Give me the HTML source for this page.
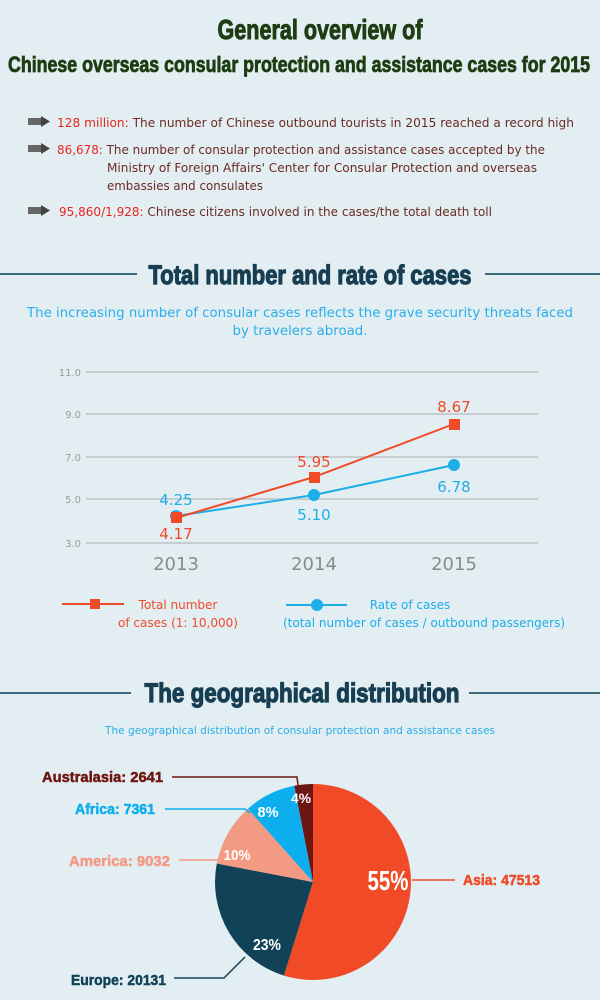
<!DOCTYPE html>
<html><head><meta charset="utf-8"><style>
html,body{margin:0;padding:0;background:#e3eef3;}
svg{display:block}
.t{font-family:"Liberation Sans Narrow","Liberation Sans",sans-serif;font-weight:bold}
.s{font-family:"DejaVu Sans","Liberation Sans",sans-serif}
</style></head><body>
<svg width="600" height="1000" viewBox="0 0 600 1000" xmlns="http://www.w3.org/2000/svg">
<rect width="600" height="1000" fill="#e3eef3"/>
<!-- Title -->
<text class="t" x="320" y="39" font-size="28" fill="#1e3d12" stroke="#1e3d12" stroke-width="1" text-anchor="middle" textLength="205" lengthAdjust="spacingAndGlyphs">General overview of</text>
<text class="t" x="299" y="72" font-size="22" fill="#1e3d12" stroke="#1e3d12" stroke-width="0.8" text-anchor="middle" textLength="582" lengthAdjust="spacingAndGlyphs">Chinese overseas consular protection and assistance cases for 2015</text>
<!-- bullets -->
<g>
<g transform="translate(28,116)"><rect x="0" y="2" width="14" height="7" fill="#666"/><polygon points="13,0 22,5.5 13,11" fill="#444"/></g>
<g transform="translate(28,143)"><rect x="0" y="2" width="14" height="7" fill="#666"/><polygon points="13,0 22,5.5 13,11" fill="#444"/></g>
<g transform="translate(28,205)"><rect x="0" y="2" width="14" height="7" fill="#666"/><polygon points="13,0 22,5.5 13,11" fill="#444"/></g>
</g>
<g class="s" font-size="12.5">
<text x="57" y="127" textLength="517" lengthAdjust="spacingAndGlyphs"><tspan fill="#e8261e">128 million:</tspan><tspan fill="#6b2a24"> The number of Chinese outbound tourists in 2015 reached a record high</tspan></text>
<text x="57" y="154" textLength="488" lengthAdjust="spacingAndGlyphs"><tspan fill="#e8261e">86,678:</tspan><tspan fill="#6b2a24"> The number of consular protection and assistance cases accepted by the</tspan></text>
<text x="107" y="172" fill="#6b2a24" textLength="430" lengthAdjust="spacingAndGlyphs">Ministry of Foreign Affairs' Center for Consular Protection and overseas</text>
<text x="107" y="190" fill="#6b2a24" textLength="156" lengthAdjust="spacingAndGlyphs">embassies and consulates</text>
<text x="59" y="216" textLength="433" lengthAdjust="spacingAndGlyphs"><tspan fill="#e8261e">95,860/1,928:</tspan><tspan fill="#6b2a24"> Chinese citizens involved in the cases/the total death toll</tspan></text>
</g>
<!-- section 1 -->
<line x1="0" y1="274" x2="137" y2="274" stroke="#3e6a80" stroke-width="2"/>
<line x1="485" y1="274" x2="600" y2="274" stroke="#3e6a80" stroke-width="2"/>
<text class="t" x="310" y="284" font-size="27" fill="#173e52" stroke="#173e52" stroke-width="1.2" text-anchor="middle" textLength="323" lengthAdjust="spacingAndGlyphs">Total number and rate of cases</text>
<g class="s" font-size="13" fill="#2aaee8" text-anchor="middle">
<text x="300" y="317" textLength="546" lengthAdjust="spacingAndGlyphs">The increasing number of consular cases reflects the grave security threats faced</text>
<text x="300" y="335" textLength="135" lengthAdjust="spacingAndGlyphs">by travelers abroad.</text>
</g>
<!-- grid -->
<g stroke="#c6cdd0" stroke-width="2">
<line x1="86" y1="372" x2="538" y2="372"/><line x1="86" y1="414" x2="538" y2="414"/><line x1="86" y1="457" x2="538" y2="457"/><line x1="86" y1="499" x2="538" y2="499"/><line x1="86" y1="543" x2="538" y2="543"/>
</g>
<g class="s" font-size="10" fill="#9a9a9a" text-anchor="end">
<text x="81" y="376">11.0</text><text x="81" y="418">9.0</text><text x="81" y="461">7.0</text><text x="81" y="503">5.0</text><text x="81" y="547">3.0</text>
</g>
<g class="s" font-size="18" fill="#8a8a8a" text-anchor="middle">
<text x="176" y="570">2013</text><text x="314" y="570">2014</text><text x="454" y="570">2015</text>
</g>
<polyline points="176,516 314,495 454,465" fill="none" stroke="#1daee8" stroke-width="2"/>
<polyline points="176,518 314,477 454,424" fill="none" stroke="#f04a28" stroke-width="2"/>
<g fill="#1daee8"><circle cx="176" cy="516" r="6"/><circle cx="314" cy="495" r="6"/><circle cx="454" cy="465" r="6"/></g>
<g fill="#f04a28"><rect x="171" y="512" width="11" height="11"/><rect x="309" y="472" width="11" height="11"/><rect x="449" y="419" width="11" height="11"/></g>
<g class="s" font-size="15" text-anchor="middle">
<text x="176" y="505" fill="#1daee8">4.25</text>
<text x="176" y="539" fill="#f04a28">4.17</text>
<text x="314" y="467" fill="#f04a28">5.95</text>
<text x="314" y="520" fill="#1daee8">5.10</text>
<text x="454" y="412" fill="#f04a28">8.67</text>
<text x="454" y="492" fill="#1daee8">6.78</text>
</g>
<!-- legend -->
<line x1="62" y1="604" x2="124" y2="604" stroke="#f04a28" stroke-width="2"/>
<rect x="90" y="599" width="10" height="10" fill="#f04a28"/>
<line x1="286" y1="605" x2="347" y2="605" stroke="#1daee8" stroke-width="2"/>
<circle cx="317" cy="605" r="6" fill="#1daee8"/>
<g class="s" font-size="12">
<text x="178" y="609" fill="#f04a28" text-anchor="middle">Total number</text>
<text x="178" y="627" fill="#f04a28" text-anchor="middle">of cases (1: 10,000)</text>
<text x="410" y="609" fill="#1daee8" text-anchor="middle">Rate of cases</text>
<text x="424" y="627" fill="#1daee8" text-anchor="middle" textLength="282" lengthAdjust="spacingAndGlyphs">(total number of cases / outbound passengers)</text>
</g>
<!-- section 2 -->
<line x1="0" y1="693" x2="131" y2="693" stroke="#3e6a80" stroke-width="2"/>
<line x1="469" y1="693" x2="600" y2="693" stroke="#3e6a80" stroke-width="2"/>
<text class="t" x="302" y="702" font-size="27" fill="#173e52" stroke="#173e52" stroke-width="1.2" text-anchor="middle" textLength="315" lengthAdjust="spacingAndGlyphs">The geographical distribution</text>
<text class="s" x="300" y="734" font-size="11" fill="#2aaee8" text-anchor="middle" textLength="390" lengthAdjust="spacingAndGlyphs">The geographical distribution of consular protection and assistance cases</text>
<!-- pie -->
<path d="M313,882 L313,784 A98,98 0 1,1 283.9,975.6 Z" fill="#f04a26"/>
<path d="M313,882 L283.9,975.6 A98,98 0 0,1 216.8,863.5 Z" fill="#114257"/>
<path d="M313,882 L216.8,863.5 A98,98 0 0,1 247.9,808.7 Z" fill="#f39a85"/>
<path d="M313,882 L247.9,808.7 A98,98 0 0,1 294.3,785.8 Z" fill="#0daeed"/>
<path d="M313,882 L294.3,785.8 A98,98 0 0,1 313,784 Z" fill="#6d1510"/>
<g fill="none" stroke-width="1.5">
<polyline points="172,777 297,777 298,785" stroke="#6d1510"/>
<polyline points="165,809 245,809 250,813" stroke="#0daeed"/>
<polyline points="179,860 218,860" stroke="#f39a85"/>
<polyline points="412,880 455,880" stroke="#f04a26"/>
<polyline points="174,978 224,978 245,957" stroke="#114257"/>
</g>
<g class="t" fill="#fff" text-anchor="middle">
<text x="388" y="890" font-size="28" textLength="41" lengthAdjust="spacingAndGlyphs">55%</text>
<text x="267" y="950" font-size="16" textLength="28" lengthAdjust="spacingAndGlyphs">23%</text>
<text x="237" y="860" font-size="15" textLength="27" lengthAdjust="spacingAndGlyphs">10%</text>
<text x="268" y="817" font-size="15" textLength="21" lengthAdjust="spacingAndGlyphs">8%</text>
<text x="301" y="803" font-size="14" textLength="20" lengthAdjust="spacingAndGlyphs">4%</text>
</g>
<g class="t" font-size="15">
<text x="42" y="782" fill="#6d1510" stroke="#6d1510" stroke-width="0.5" textLength="121" lengthAdjust="spacingAndGlyphs">Australasia: 2641</text>
<text x="75" y="814" fill="#0daeed" stroke="#0daeed" stroke-width="0.5" textLength="80" lengthAdjust="spacingAndGlyphs">Africa: 7361</text>
<text x="69" y="866" fill="#f39a85" stroke="#f39a85" stroke-width="0.5" textLength="101" lengthAdjust="spacingAndGlyphs">America: 9032</text>
<text x="463" y="885" fill="#f04a26" stroke="#f04a26" stroke-width="0.5" textLength="77" lengthAdjust="spacingAndGlyphs">Asia: 47513</text>
<text x="71" y="985" fill="#114257" stroke="#114257" stroke-width="0.5" textLength="95" lengthAdjust="spacingAndGlyphs">Europe: 20131</text>
</g>
</svg>
</body></html>
